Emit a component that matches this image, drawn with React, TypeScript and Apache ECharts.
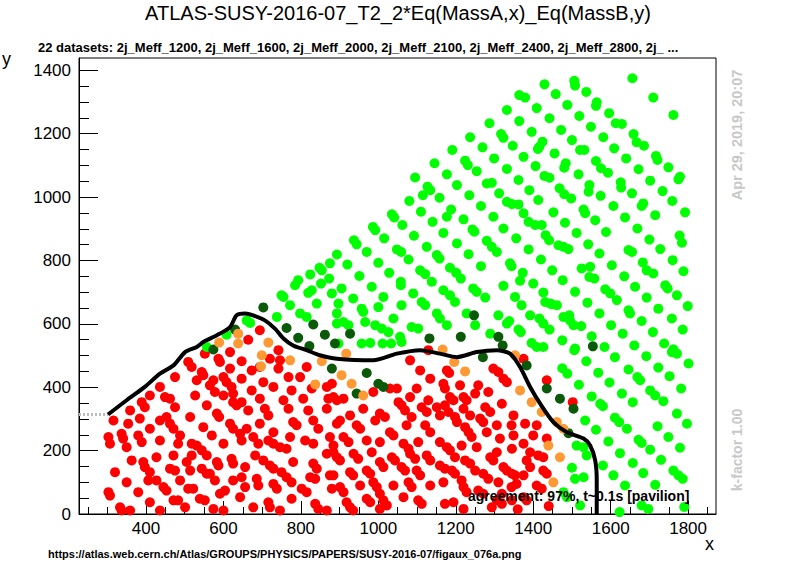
import React, { useEffect, useRef } from "react";
import * as echarts from "echarts";

const titleText = "ATLAS-SUSY-2016-07_T2_2*Eq(MassA,x)_Eq(MassB,y)";
const subtitleText =
  "22 datasets: 2j_Meff_1200, 2j_Meff_1600, 2j_Meff_2000, 2j_Meff_2100, 2j_Meff_2400, 2j_Meff_2800, 2j_ ...";
const urlText = "https://atlas.web.cern.ch/Atlas/GROUPS/PHYSICS/PAPERS/SUSY-2016-07/figaux_076a.png";
const agreementText = "agreement: 97%, t~0.1s [pavilion]";
const dateText = "Apr 29, 2019, 20:07";
const kfactorText = "k-factor 1.00";

const xMajorTicks = [400, 600, 800, 1000, 1200, 1400, 1600, 1800];
const xMinorTicks = [250, 300, 350, 400, 450, 500, 550, 600, 650, 700, 750, 800, 850, 900, 950, 1000, 1050, 1100, 1150, 1200, 1250, 1300, 1350, 1400, 1450, 1500, 1550, 1600, 1650, 1700, 1750, 1800, 1850];
const yMajorTicks = [0, 200, 400, 600, 800, 1000, 1200, 1400];
const yMinorTicks = [0, 50, 100, 150, 200, 250, 300, 350, 400, 450, 500, 550, 600, 650, 700, 750, 800, 850, 900, 950, 1000, 1050, 1100, 1150, 1200, 1250, 1300, 1350, 1400];

const greenPoints = [
  [1364,1322],[1379,1314],[1409,1281],[1332,1275],[1364,1240],[1287,1233],[1317,1199],[1323,1187],[1396,1206],[1237,1189],[1347,1162],[1269,1157],[1412,1152],[1191,1149],[1224,1115],[1231,1101],[1299,1122],[1375,1127],[1145,1107],[1254,1082],[1332,1089],[1406,1098],[1177,1072],[1095,1062],[1280,1043],[1293,1045],[1362,1054],[1203,1038],[1127,1033],[1134,1022],[1312,1012],[1390,1022],[1235,1006],[1158,998],[1115,1006],[1080,988],[1332,985],[1345,978],[1413,991],[1265,972],[1188,961],[1110,954],[1035,946],[1041,936],[1375,949],[1297,938],[1220,930],[1177,938],[1140,922],[1062,912],[986,906],[992,896],[1388,922],[1405,912],[1323,901],[1243,898],[1248,891],[1168,887],[1092,878],[1015,870],[937,864],[944,851],[1356,870],[1280,862],[1293,843],[1306,827],[1203,854],[1125,843],[1048,835],[1059,827],[970,827],[893,819],[1388,835],[1233,820],[1151,817],[1158,806],[1078,803],[1000,793],[920,787],[875,791],[848,777],[854,769],[1340,791],[1344,782],[1265,782],[1185,777],[1201,761],[1213,743],[1108,769],[1121,757],[1028,761],[951,751],[873,743],[824,756],[793,738],[785,722],[1373,761],[1366,736],[1323,720],[1245,712],[1254,701],[1138,733],[1058,733],[1058,722],[983,717],[905,712],[852,727],[828,706],[819,698],[880,696],[750,690],[755,685],[1400,727],[1168,706],[1185,690],[1090,696],[1013,685],[935,680],[1353,685],[1276,683],
  [1656,1375],[1429,1356],[1506,1367],[1508,1352],[1710,1314],[1762,1259],[1458,1325],[1537,1332],[1564,1299],[1562,1288],[1488,1291],[1442,1249],[1519,1256],[1596,1265],[1613,1233],[1629,1231],[1659,1199],[1667,1173],[1686,1162],[1472,1212],[1549,1222],[1581,1189],[1500,1180],[1424,1175],[1416,1159],[1609,1154],[1521,1149],[1532,1149],[1455,1138],[1717,1130],[1721,1117],[1640,1122],[1562,1114],[1484,1107],[1480,1093],[1749,1094],[1672,1088],[1575,1091],[1593,1077],[1429,1067],[1442,1061],[1517,1072],[1779,1064],[1775,1056],[1702,1052],[1626,1047],[1627,1030],[1545,1038],[1543,1017],[1468,1028],[1480,1009],[1498,996],[1734,1019],[1655,1012],[1574,1004],[1362,977],[1759,988],[1684,980],[1680,972],[1607,972],[1530,961],[1534,949],[1452,952],[1792,952],[1715,943],[1637,936],[1560,927],[1482,919],[1422,912],[1778,879],[1784,856],[1700,866],[1669,901],[1588,890],[1512,887],[1432,880],[1441,864],[1728,836],[1646,833],[1655,827],[1571,822],[1542,851],[1465,848],[1478,843],[1491,836],[1760,801],[1683,794],[1693,769],[1710,759],[1603,785],[1420,803],[1788,766],[1635,750],[1525,775],[1547,780],[1545,748],[1558,743],[1449,769],[1741,722],[1747,712],[1663,717],[1586,709],[1599,696],[1616,675],[1508,701],[1476,738],[1771,690],[1693,683],[1426,699],[1431,669],[1448,662],[1461,659],[1799,656],[1723,648],[1646,643],[1650,633],[1571,633],[1540,667],[1493,627],[1495,611],[1504,596],[1416,617],[1338,609],[1758,617],[1680,609],[1601,596],[1524,593],[1442,582],[1362,582],[1368,574],[1786,582],[1709,574],[1631,569],[1551,561],[1475,548],[1396,540],[1409,527],[1738,538],[1661,532],[1762,520],[1508,522],[1584,527],
  [1506,517],[1758,511],[1771,506],[1537,482],[1611,495],[1692,498],[1568,446],[1646,456],[1723,462],[1801,475],[1488,443],[1518,408],[1597,415],[1669,432],[1676,422],[1752,435],[1702,390],[1715,374],[1782,396],[1551,371],[1629,380],[1657,353],[1573,348],[1580,340],[1736,356],[1771,317],[1797,285],[1534,295],[1611,304],[1622,290],[1642,269],[1562,266],[1721,277],[1672,234],[1680,224],[1749,243],[1594,229],[1512,216],[1530,211],[1538,185],[1779,209],[1702,203],[1624,192],[1580,153],[1657,161],[1730,171],[1500,146],[1762,137],[1775,122],[1786,111],[1607,122],[1684,129],[1508,111],[1530,116],[1637,90],[1715,92],[1680,27],[1697,16],[1623,6],[1478,69],[1487,53],[1521,27],[1790,22],[1475,460],
  [897,664],[893,601],[910,606],[923,596],[957,648],[961,638],[957,538],[979,540],[966,606],[992,596],[1009,585],[1026,574],[1000,653],[1060,659],[1039,617],[1103,585],[1056,559],[1011,538],[1033,538],[1060,543],[1086,590],[1112,669],[1121,659],[1151,633],[1159,617],[1177,596],[1198,669],[1228,633],[1250,596],[1289,569],[1310,627],[1332,601],[1370,659],[1392,627],[1444,664],[1426,601],[1426,527],[1478,622],
  [557,527],[608,566],[660,611],[669,603],[738,622],[798,633],[815,622],[841,664],[893,633],[897,538],[772,659]
];

const darkGreenPoints = [
  [630,582],[574,519],[703,652],[763,587],[793,556],[832,598],[862,566],[880,459],[822,530],[927,569],[888,538],[970,445],[1000,411],[1013,401],[944,380],[1132,554],[1213,559],[1247,627],[1270,495],[1310,559],[1321,532],[1383,469],[1435,396],[1469,364],[1504,332],[1554,529],[1491,255]
];

const orangePoints = [
  [638,569],[589,541],[638,538],[716,541],[699,501],[697,466],[772,485],[837,409],[854,482],[917,506],[905,438],[931,411],[961,374],[1166,519],[1196,480],[1224,450],[1353,501],[1366,390],[1396,353],[1422,322],[1461,290],[1478,269],[1439,216],[1469,179],[1452,100]
];

const redPoints = [
  [694,580],[742,517],[746,485],[720,490],[664,550],[617,511],[552,506],[587,490],[591,480],[647,482],[694,464],[509,480],[518,464],[544,448],[548,438],[617,459],[673,453],[742,459],[798,432],[815,464],[574,422],[600,432],[608,416],[647,427],[703,416],[768,432],[475,432],[436,401],[531,422],[565,406],[578,385],[621,401],[625,380],[673,390],[729,401],[776,390],[828,396],[867,401],[410,374],[449,369],[462,364],[527,374],[600,374],[647,353],[694,364],[755,359],[806,364],[871,364],[389,353],[397,337],[359,327],[475,337],[557,343],[583,317],[589,306],[625,353],[634,343],[664,327],[707,332],[716,311],[768,332],[819,327],[867,332],[316,295],[354,285],[384,301],[436,295],[453,306],[462,285],[471,269],[514,306],[548,274],[617,285],[625,269],[660,269],[694,285],[729,258],[780,290],[789,280],[832,295],[845,269],[893,285],[303,243],[307,222],[337,253],[341,238],[350,211],[363,169],[380,248],[389,227],[410,269],[436,232],[488,248],[483,222],[518,222],[531,216],[544,201],[557,185],[570,248],[600,222],[643,253],[647,232],[677,243],[690,222],[716,232],[729,222],[746,211],[763,206],[772,243],[811,232],[832,222],[875,243],[884,195],[320,132],[393,164],[397,148],[410,132],[427,179],[471,185],[505,164],[518,185],[462,143],[475,137],[514,137],[544,143],[557,127],[583,164],[587,153],[621,174],[625,159],[656,148],[682,185],[703,169],[720,153],[729,143],[750,132],[763,116],[776,100],[780,164],[832,159],[841,143],[867,190],[875,122],[350,100],[380,69],[303,69],[307,58],[333,21],[337,11],[359,11],[406,106],[427,106],[410,37],[436,11],[445,85],[453,74],[488,106],[471,43],[483,43],[501,21],[509,80],[522,80],[539,48],[552,43],[565,127],[578,106],[574,16],[600,11],[604,74],[591,64],[625,106],[647,116],[656,85],[643,53],[677,21],[686,111],[690,90],[729,95],[738,80],[716,37],[720,21],[746,11],[776,48],[802,80],[815,69],[824,116],[837,111],[837,32],[845,16],[867,11],[880,80],
  [1082,485],[1129,517],[1108,453],[1177,453],[1183,445],[1134,427],[1168,411],[1172,396],[1211,406],[1258,406],[1297,459],[1310,448],[1323,427],[1332,416],[1375,490],[1435,422],[1502,353],[880,411],[884,369],[893,359],[910,364],[987,385],[1030,396],[1048,396],[1099,396],[1129,359],[1151,337],[1185,369],[1194,359],[1220,369],[1228,359],[1250,380],[1284,385],[1319,348],[1349,311],[1379,285],[1400,248],[1409,280],[1435,238],[961,332],[1004,317],[1017,306],[1052,353],[1060,343],[1069,327],[1086,306],[1082,369],[1112,337],[1125,322],[1172,343],[1181,322],[1220,332],[1237,311],[1276,337],[1289,322],[1344,280],[1306,280],[927,311],[901,295],[944,280],[953,269],[992,295],[1030,258],[1039,248],[1073,280],[1121,280],[1134,258],[1159,311],[1198,306],[1203,290],[1224,274],[1233,258],[1241,243],[1263,301],[1271,290],[1280,258],[1314,238],[1349,248],[1375,222],[1413,185],[1426,179],[1392,195],[910,243],[923,227],[884,216],[970,232],[1004,227],[1065,222],[1078,206],[1103,227],[1159,227],[1177,211],[1185,201],[1198,179],[1215,216],[1254,211],[1306,195],[1345,206],[1383,169],[1426,137],[1435,127],[893,179],[901,169],[936,190],[948,174],[983,195],[1035,179],[1043,169],[1082,190],[1095,174],[1125,185],[1134,169],[1224,169],[1237,159],[1250,137],[1159,153],[1172,143],[1289,179],[1297,169],[1323,148],[1332,137],[1345,127],[1353,122],[1375,122],[1392,148],[927,132],[935,122],[884,122],[970,137],[979,127],[1004,164],[1013,148],[1060,148],[1069,137],[1099,137],[1108,122],[1190,137],[1198,127],[1215,106],[1271,127],[1284,111],[1310,100],[1357,95],[1409,90],[1422,80],[901,85],[910,69],[953,90],[987,100],[996,85],[1004,64],[1039,90],[1078,100],[1086,85],[1134,90],[1168,100],[1220,85],[1228,69],[1258,74],[1271,64],[1319,64],[1344,85],[1375,53],[1383,43],[918,37],[927,21],[970,48],[979,37],[1013,43],[1022,27],[1065,53],[1103,43],[1112,32],[1172,32],[1194,37],[1306,43],[1319,32],[1345,43],[935,11],[1004,16],[1220,16],[1293,21],[1440,25],[1360,15]
];

const contourLine = [
  [302,314],[350,359],[397,401],[436,443],[471,469],[501,511],[531,527],[548,543],[583,564],[617,590],[634,627],[656,633],[677,627],[707,611],[733,585],[755,554],[780,532],[815,517],[849,501],[893,490],[987,485],[1048,506],[1108,517],[1159,506],[1203,495],[1254,511],[1306,517],[1340,506],[1366,464],[1392,401],[1418,348],[1452,290],[1487,258],[1530,238],[1547,216],[1560,169],[1564,106],[1564,0]
];

const contourLead = [[227,314],[302,314]];

const FONT = "'Liberation Sans', Arial, Helvetica, sans-serif";
const X_MIN = 227;
const X_MAX = 1872;
const Y_MIN = 0;
const Y_MAX = 1439;

export default function App() {
  const ref = useRef<HTMLDivElement>(null);
  useEffect(() => {
    if (!ref.current) return;
    const chart = echarts.init(ref.current, undefined, { renderer: "svg" });
    const scatterStyle = (name: string, data: number[][], color: string) => ({
      name,
      type: "scatter",
      data,
      symbol: "circle",
      symbolSize: 10,
      itemStyle: { color, opacity: 1 },
      xAxisIndex: 0,
      yAxisIndex: 0,
      silent: true,
    });
    const plain = (v: number) => String(v);
    chart.setOption({
      animation: false,
      backgroundColor: "#ffffff",
      grid: { left: 79, right: 80, top: 58, bottom: 58, show: true, borderColor: "#000", borderWidth: 1, backgroundColor: "transparent" },
      xAxis: [
        {
          type: "value", min: X_MIN, max: X_MAX, position: "bottom",
          axisLine: { show: true, onZero: false, lineStyle: { color: "#000", width: 1 } },
          axisTick: { show: true, inside: true, length: 13, customValues: xMajorTicks, lineStyle: { color: "#000", width: 1 } },
          axisLabel: { show: true, customValues: xMajorTicks, formatter: plain, fontSize: 17, color: "#000", fontFamily: FONT, margin: 6 },
          splitLine: { show: false },
        },
        {
          type: "value", min: X_MIN, max: X_MAX, position: "bottom",
          axisLine: { show: false },
          axisTick: { show: true, inside: true, length: 7, customValues: xMinorTicks, lineStyle: { color: "#000", width: 1 } },
          axisLabel: { show: false },
          splitLine: { show: false },
        },
      ],
      yAxis: [
        {
          type: "value", min: Y_MIN, max: Y_MAX, position: "left",
          axisLine: { show: true, onZero: false, lineStyle: { color: "#000", width: 1 } },
          axisTick: { show: true, inside: true, length: 19, customValues: yMajorTicks, lineStyle: { color: "#000", width: 1 } },
          axisLabel: { show: true, customValues: yMajorTicks, formatter: plain, fontSize: 17, color: "#000", fontFamily: FONT, margin: 8 },
          splitLine: { show: false },
        },
        {
          type: "value", min: Y_MIN, max: Y_MAX, position: "left",
          axisLine: { show: false },
          axisTick: { show: true, inside: true, length: 10, customValues: yMinorTicks, lineStyle: { color: "#000", width: 1 } },
          axisLabel: { show: false },
          splitLine: { show: false },
        },
      ],
      series: [
        scatterStyle("red", redPoints, "#ff0000"),
        scatterStyle("green", greenPoints, "#00ff00"),
        scatterStyle("darkgreen", darkGreenPoints, "#0a5a0a"),
        scatterStyle("orange", orangePoints, "#ff9933"),
        {
          type: "line", data: contourLead, xAxisIndex: 0, yAxisIndex: 0, showSymbol: false, silent: true,
          lineStyle: { color: "#bbbbbb", width: 3, type: [2, 2] },
        },
        {
          type: "line", data: contourLine, xAxisIndex: 0, yAxisIndex: 0, showSymbol: false, silent: true, smooth: 0.25,
          lineStyle: { color: "#000", width: 4 },
        },
      ],
      graphic: [
        { type: "text", left: "center", top: 3, style: { text: titleText, fontSize: 20, fontFamily: FONT, fill: "#000" } },
        { type: "text", x: 38, y: 41, style: { text: subtitleText, fontSize: 13, fontWeight: "bold", fontFamily: FONT, fill: "#000" } },
        { type: "text", x: 2, y: 50, style: { text: "y", fontSize: 18, fontFamily: FONT, fill: "#000" } },
        { type: "text", x: 705, y: 535, style: { text: "x", fontSize: 18, fontFamily: FONT, fill: "#000" } },
        { type: "text", x: 48, y: 548, style: { text: urlText, fontSize: 11, fontWeight: "bold", fontFamily: FONT, fill: "#000" } },
        { type: "text", x: 468, y: 489, z: 100, style: { text: agreementText, fontSize: 14, fontWeight: "bold", fontFamily: FONT, fill: "#000" } },
        { type: "text", x: 737, y: 135, rotation: Math.PI / 2, style: { text: dateText, fontSize: 14.5, fontWeight: "bold", fontFamily: FONT, fill: "#c8c8c8", align: "center", verticalAlign: "middle" } },
        { type: "text", x: 737, y: 450, rotation: Math.PI / 2, style: { text: kfactorText, fontSize: 14, fontWeight: "bold", fontFamily: FONT, fill: "#c8c8c8", align: "center", verticalAlign: "middle" } },
      ],
    });
    return () => chart.dispose();
  }, []);
  return <div ref={ref} style={{ position: "absolute", left: 0, top: 0, width: 796, height: 572 }} />;
}
